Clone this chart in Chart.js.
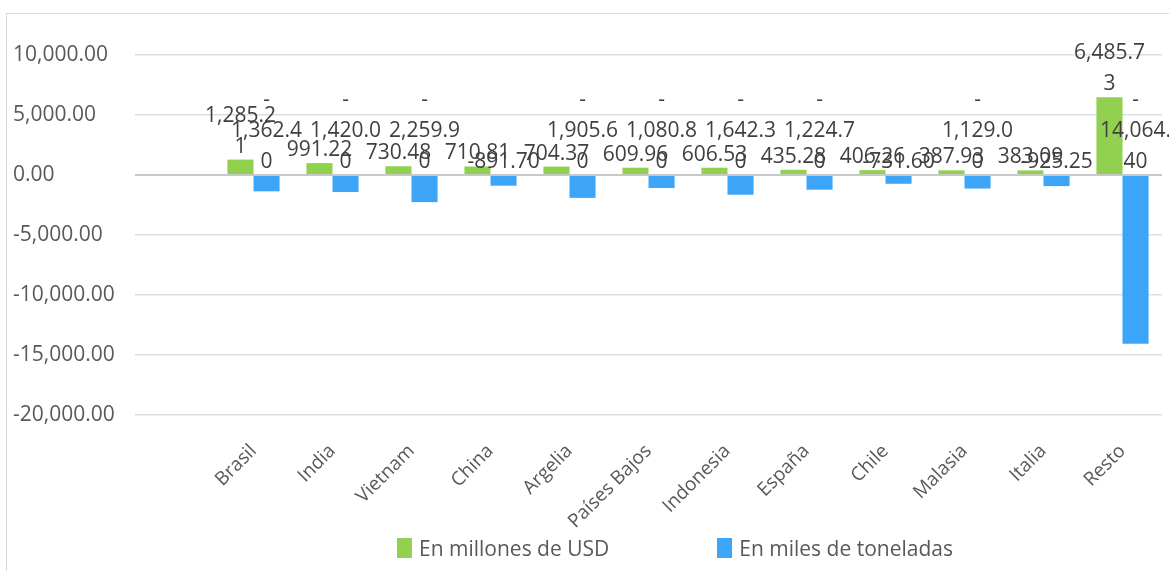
<!DOCTYPE html>
<html>
<head>
<meta charset="utf-8">
<script src="https://cdn.jsdelivr.net/npm/chart.js@4"></script>
<style>
  body { margin: 0; background: #fff; font-family: "Open Sans", sans-serif; }
  #wrap { position: relative; width: 1169px; height: 571px; overflow: hidden; }
  #frame { position: absolute; left: 6px; top: 13px; width: 1200px; height: 600px;
           border-left: 1px solid #d9d9d9; border-top: 1px solid #d9d9d9; }
  canvas { position: absolute; left: 0; top: 0; }
  #legend { position: absolute; top: 534px; left: 397px; display: flex; gap: 108px;
            font-size: 21px; color: #595959; }
  .item { display: flex; align-items: center; }
  .box { width: 15px; height: 20px; margin-right: 7px; }
</style>
</head>
<body>
<div id="wrap">
  <div id="frame"></div>
  <canvas id="chart" width="1169" height="571"></canvas>
  <div id="legend"></div>
</div>
<script>
// first category is an empty row in the source sheet
const countries = ['', 'Brasil', 'India', 'Vietnam', 'China', 'Argelia', 'Países Bajos',
  'Indonesia', 'España', 'Chile', 'Malasia', 'Italia', 'Resto'];
const usd = [null, 1285.21, 991.22, 730.48, 710.81, 704.37, 609.96,
  606.53, 435.28, 406.26, 387.93, 383.09, 6485.73];
const tons = [null, -1362.40, -1420.00, -2259.90, -891.70, -1905.60, -1080.80,
  -1642.30, -1224.70, -731.60, -1129.00, -925.25, -14064.40];
const yTicks = [10000, 5000, 0, -5000, -10000, -15000, -20000];
const seriesNames = ['En millones de USD', 'En miles de toneladas'];
const seriesColors = ['#92D050', '#3DA5F8'];

const fmt = v => v.toLocaleString('en-US', { minimumFractionDigits: 2, maximumFractionDigits: 2 });

// Excel-like wrapping of the data labels: break after a leading minus, then by width
function wrapLabel(ctx, s, maxW) {
  const lines = [];
  let rest = s;
  if (s[0] === '-' && ctx.measureText(s).width > maxW) {
    lines.push('-');
    rest = s.slice(1);
  }
  let cur = '';
  for (const ch of rest) {
    if (cur && ctx.measureText(cur + ch).width > maxW) {
      lines.push(cur);
      cur = ch;
    } else {
      cur += ch;
    }
  }
  if (cur) lines.push(cur);
  return lines;
}

const barLabels = {
  id: 'barLabels',
  afterDatasetsDraw(chart) {
    const ctx = chart.ctx;
    const zero = chart.scales.y.getPixelForValue(0);
    ctx.save();
    ctx.font = '21px "Open Sans"';
    ctx.fillStyle = '#404040';
    ctx.textAlign = 'center';
    ctx.textBaseline = 'middle';
    const maxW = ctx.measureText('0,000.0').width + 4;
    chart.data.datasets.forEach((ds, i) => {
      chart.getDatasetMeta(i).data.forEach((bar, j) => {
        const v = ds.data[j];
        if (v == null) return;
        const lines = wrapLabel(ctx, fmt(v), maxW);
        const anchor = v >= 0 ? bar.y : zero;
        lines.forEach((ln, k) => {
          ctx.fillText(ln, bar.x, anchor - 13 - (lines.length - 1 - k) * 31);
        });
      });
    });
    ctx.restore();
  }
};

new Chart(document.getElementById('chart'), {
  type: 'bar',
  data: {
    labels: countries,
    datasets: [
      { label: seriesNames[0], data: usd, backgroundColor: seriesColors[0],
        categoryPercentage: 0.66, barPercentage: 1 },
      { label: seriesNames[1], data: tons, backgroundColor: seriesColors[1],
        categoryPercentage: 0.66, barPercentage: 1 }
    ]
  },
  options: {
    responsive: false,
    animation: false,
    layout: { padding: { left: 13, top: 55, right: 7, bottom: 0 } },
    plugins: { legend: { display: false }, tooltip: { enabled: false } },
    scales: {
      x: {
        grid: { display: false },
        border: { display: false },
        ticks: {
          color: '#595959',
          font: { family: 'Open Sans', size: 19 },
          minRotation: 45, maxRotation: 45,
          autoSkip: false,
          padding: 17
        },
        afterFit: s => { s.height = 156; }
      },
      y: {
        min: Math.min(...yTicks),
        max: Math.max(...yTicks),
        ticks: {
          stepSize: yTicks[0] - yTicks[1],
          color: '#595959',
          font: { family: 'Open Sans', size: 21 },
          crossAlign: 'far',
          callback: v => fmt(v)
        },
        grid: {
          color: c => c.tick.value === 0 ? '#c8c8c8' : '#dedede',
          lineWidth: c => c.tick.value === 0 ? 2 : 1.5,
          drawTicks: false
        },
        border: { display: false },
        afterFit: s => { s.width = 122; }
      }
    }
  },
  plugins: [barLabels]
});

// legend below the plot
const legend = document.getElementById('legend');
seriesNames.forEach((name, i) => {
  const item = document.createElement('div');
  item.className = 'item';
  item.innerHTML = '<span class="box" style="background:' + seriesColors[i] + '"></span><span>' + name + '</span>';
  legend.appendChild(item);
});
</script>
</body>
</html>
